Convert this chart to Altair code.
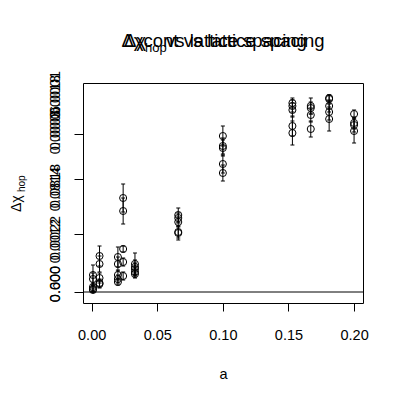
import altair as alt
import pandas as pd

# ---- data ----
a_vals = ([0.001] * 5 + [0.006] * 5 + [0.020] * 5 + [0.024] * 5 + [0.033] * 5 +
          [0.066] * 5 + [0.100] * 5 + [0.153] * 5 + [0.167] * 4 + [0.181] * 5 + [0.200] * 4)
dchi = [0.17, 0.13, 0.05, 0.03, 0.02,
        0.36, 0.28, 0.14, 0.09, 0.08,
        0.35, 0.28, 0.17, 0.13, 0.10,
        0.94, 0.81, 0.43, 0.30, 0.16,
        0.28, 0.25, 0.23, 0.20, 0.18,
        0.77, 0.74, 0.70, 0.60, 0.59,
        1.56, 1.46, 1.44, 1.28, 1.19,
        1.89, 1.86, 1.82, 1.66, 1.59,
        1.86, 1.84, 1.77, 1.63,
        1.94, 1.93, 1.86, 1.80, 1.73,
        1.78, 1.69, 1.67, 1.61]
err = [0.10, 0.06, 0.04, 0.03, 0.02,
       0.10, 0.08, 0.05, 0.04, 0.04,
       0.10, 0.07, 0.05, 0.04, 0.03,
       0.14, 0.13, 0.03, 0.04, 0.04,
       0.11, 0.07, 0.06, 0.05, 0.04,
       0.07, 0.05, 0.05, 0.06, 0.07,
       0.10, 0.08, 0.08, 0.09, 0.08,
       0.05, 0.06, 0.07, 0.10, 0.12,
       0.08, 0.06, 0.07, 0.08,
       0.03, 0.04, 0.06, 0.08, 0.12,
       0.04, 0.06, 0.07, 0.12]

x_ticks = [0.00, 0.05, 0.10, 0.15, 0.20]
y_ticks = [2.02, 1.98, 1.62, 1.58, 1.54, 1.50, 1.46, 1.13, 1.10, 0.99, 0.96,
           0.58, 0.55, 0.46, 0.42, 0.00]
ylab_pos = [0.08, 0.08, 0.51, 0.54, 1.03, 1.06, 1.60, 1.64, 1.95, 1.99]
ylab_txt = ["0.600", "0.000", "0.0012", "0.0022", "0.0814", "0.0818",
            "0.0003", "0.0006", "0.0018", "0.0001"]
ref_line = [0.0]

title_a = "Δχcont vs lattice spacing"
title_b = ["Δχ", "hop", " vs lattice spacing"]
ytitle = ["Δχ", "hop"]
xtitle = "a"

FONT = "Liberation Sans"

df = pd.DataFrame({"a": a_vals, "d": dchi, "e": err})
df["lo"] = df["d"] - df["e"]
df["hi"] = df["d"] + df["e"]
ylab_df = pd.DataFrame({"pos": ylab_pos, "txt": ylab_txt})

xs = alt.Scale(domain=[-0.0066, 0.2068], nice=False, zero=False)
ys = alt.Scale(domain=[-0.11, 2.09], nice=False, zero=False)

base = alt.Chart(df)

points = base.mark_point(shape="circle", filled=False, size=50, color="black",
                         strokeWidth=1, opacity=1).encode(
    x=alt.X("a:Q", scale=xs,
            axis=alt.Axis(values=x_ticks, format=".2f", title=xtitle, tickSize=8,
                          labelPadding=17, titlePadding=26, domain=False, grid=False,
                          labelFontSize=14.5, titleFontSize=14.5, titleFontWeight="normal")),
    y=alt.Y("d:Q", scale=ys,
            axis=alt.Axis(values=y_ticks, labels=False, title=None, tickSize=9,
                          domain=False, grid=False)),
)

bars = base.mark_rule(color="black", strokeWidth=1).encode(
    x="a:Q", y="lo:Q", y2="hi:Q")
cap_lo = base.mark_tick(orient="horizontal", color="black", size=4, thickness=1,
                        opacity=1).encode(x="a:Q", y="lo:Q")
cap_hi = base.mark_tick(orient="horizontal", color="black", size=4, thickness=1,
                        opacity=1).encode(x="a:Q", y="hi:Q")

hline = alt.Chart(pd.DataFrame({"v": ref_line})).mark_rule(
    color="black", strokeWidth=1).encode(y="v:Q")

ylabels = alt.Chart(ylab_df).mark_text(
    angle=270, align="center", baseline="alphabetic", font=FONT, fontSize=14.5,
    color="black").encode(y="pos:Q", x=alt.value(-23), text="txt:N")

tA = alt.Chart(pd.DataFrame({"t": [title_a]})).mark_text(
    align="center", baseline="alphabetic", font=FONT, fontSize=18.5, color="black"
).encode(x=alt.value(140), y=alt.value(-36), text="t:N")
tB1 = alt.Chart(pd.DataFrame({"t": [title_b[0]]})).mark_text(
    align="left", baseline="alphabetic", font=FONT, fontSize=18.5, color="black"
).encode(x=alt.value(41), y=alt.value(-36), text="t:N")
tB2 = alt.Chart(pd.DataFrame({"t": [title_b[1]]})).mark_text(
    align="left", baseline="alphabetic", font=FONT, fontSize=13, color="black"
).encode(x=alt.value(62), y=alt.value(-31), text="t:N")
tB3 = alt.Chart(pd.DataFrame({"t": [title_b[2]]})).mark_text(
    align="left", baseline="alphabetic", font=FONT, fontSize=18.5, color="black"
).encode(x=alt.value(83), y=alt.value(-36), text="t:N")

yt1 = alt.Chart(pd.DataFrame({"t": [ytitle[0]]})).mark_text(
    angle=270, align="left", baseline="alphabetic", font=FONT, fontSize=14,
    color="black").encode(x=alt.value(-62), y=alt.value(129), text="t:N")
yt2 = alt.Chart(pd.DataFrame({"t": [ytitle[1]]})).mark_text(
    angle=270, align="left", baseline="alphabetic", font=FONT, fontSize=10,
    color="black").encode(x=alt.value(-58), y=alt.value(109), text="t:N")

chart = alt.layer(hline, bars, cap_lo, cap_hi, points, ylabels,
                  tA, tB1, tB2, tB3, yt1, yt2).properties(
    width=280, height=220,
    autosize=alt.AutoSizeParams(type="none"),
    padding={"left": 75, "top": 75, "right": 30, "bottom": 90},
    background="white",
).configure_view(stroke="black", strokeWidth=1).configure_axis(
    labelFont=FONT, titleFont=FONT, labelColor="black", titleColor="black",
    tickColor="black", tickWidth=1,
)

chart.save("out.html", embed_options={"renderer": "svg", "actions": False})
